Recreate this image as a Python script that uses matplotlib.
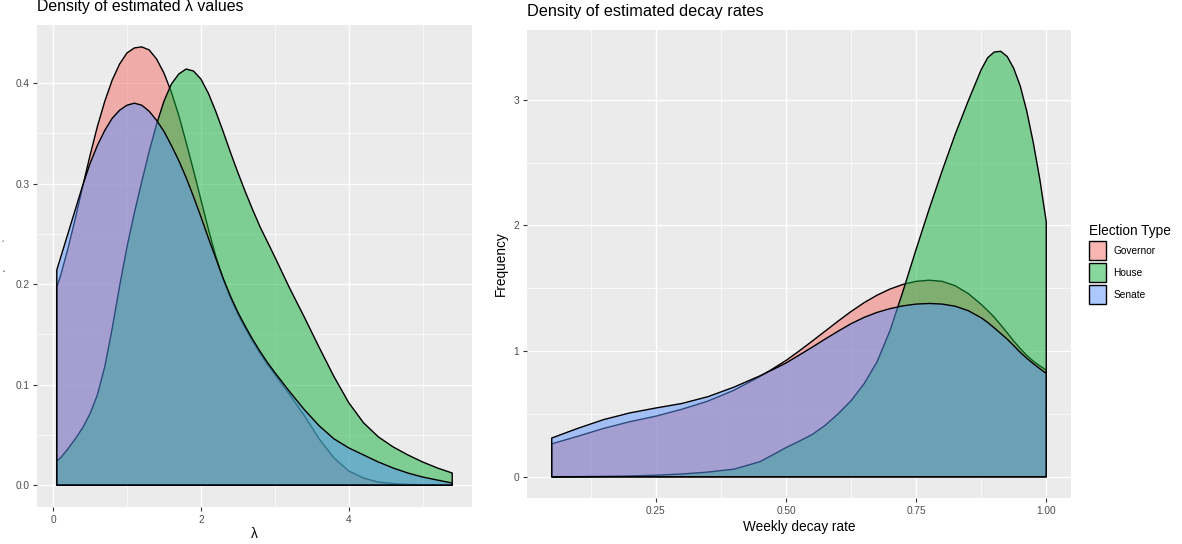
import matplotlib
matplotlib.use("Agg")
import matplotlib.pyplot as plt
from matplotlib.patches import Patch
import numpy as np

plt.rcParams['font.family'] = ['Liberation Sans', 'DejaVu Sans']

# ---- data -------------------------------------------------------------
election_types = ["Governor", "House", "Senate"]
fill_colors = ["#F36C67", "#12B13C", "#5A93FA"]

# density of estimated lambda values
lam = [0.05, 0.1, 0.2, 0.3, 0.4, 0.5, 0.6, 0.7, 0.8, 0.9, 1.0, 1.1, 1.2, 1.3,
       1.4, 1.5, 1.6, 1.7, 1.8, 1.9, 2.0, 2.1, 2.2, 2.3, 2.4, 2.5, 2.6, 2.7,
       2.8, 2.9, 3.0, 3.2, 3.4, 3.6, 3.8, 4.0, 4.2, 4.4, 4.6, 4.8, 5.0, 5.2,
       5.4]
lam_governor = [0.197, 0.208, 0.235, 0.265, 0.297, 0.328, 0.357, 0.382, 0.403,
                0.419, 0.430, 0.435, 0.436, 0.433, 0.424, 0.410, 0.391, 0.368,
                0.341, 0.313, 0.284, 0.255, 0.228, 0.205, 0.186, 0.170, 0.156,
                0.143, 0.131, 0.120, 0.110, 0.090, 0.069, 0.046, 0.027, 0.014,
                0.007, 0.003, 0.0015, 0.0007, 0.0003, 0.0001, 0.0]
lam_house = [0.024, 0.027, 0.036, 0.046, 0.057, 0.071, 0.090, 0.118, 0.156,
             0.198, 0.237, 0.271, 0.302, 0.332, 0.359, 0.382, 0.399, 0.409,
             0.414, 0.412, 0.404, 0.390, 0.372, 0.352, 0.331, 0.311, 0.292,
             0.274, 0.257, 0.242, 0.227, 0.196, 0.167, 0.137, 0.108, 0.082,
             0.062, 0.048, 0.038, 0.030, 0.023, 0.017, 0.012]
lam_senate = [0.214, 0.226, 0.250, 0.274, 0.298, 0.320, 0.338, 0.353, 0.365,
              0.373, 0.378, 0.380, 0.378, 0.372, 0.363, 0.352, 0.338, 0.323,
              0.306, 0.287, 0.267, 0.246, 0.226, 0.206, 0.188, 0.172, 0.158,
              0.145, 0.133, 0.122, 0.112, 0.093, 0.075, 0.059, 0.046, 0.037,
              0.030, 0.023, 0.017, 0.012, 0.008, 0.005, 0.002]

# density of estimated weekly decay rates
decay = [0.05, 0.10, 0.15, 0.20, 0.25, 0.30, 0.35, 0.40, 0.45, 0.475, 0.50,
         0.525, 0.55, 0.575, 0.60, 0.625, 0.65, 0.675, 0.70, 0.725, 0.75,
         0.775, 0.80, 0.825, 0.85, 0.875, 0.8875, 0.90, 0.9125, 0.925,
         0.9375, 0.95, 0.9625, 0.975, 0.9875, 1.00]
decay_governor = [0.262, 0.322, 0.385, 0.438, 0.482, 0.537, 0.602, 0.688,
                  0.798, 0.860, 0.925, 1.000, 1.078, 1.158, 1.238, 1.315,
                  1.385, 1.445, 1.494, 1.531, 1.555, 1.564, 1.555, 1.520,
                  1.458, 1.372, 1.322, 1.270, 1.208, 1.145, 1.080, 1.020,
                  0.966, 0.920, 0.882, 0.849]
decay_house = [0.000, 0.001, 0.003, 0.006, 0.012, 0.022, 0.037, 0.060, 0.120,
               0.175, 0.232, 0.282, 0.335, 0.408, 0.500, 0.605, 0.740, 0.915,
               1.165, 1.480, 1.810, 2.130, 2.435, 2.725, 2.990, 3.240, 3.335,
               3.380, 3.386, 3.344, 3.250, 3.110, 2.910, 2.660, 2.370, 2.029]
decay_senate = [0.308, 0.385, 0.455, 0.508, 0.547, 0.583, 0.637, 0.713, 0.803,
                0.853, 0.905, 0.967, 1.030, 1.095, 1.158, 1.218, 1.268, 1.308,
                1.338, 1.360, 1.374, 1.379, 1.374, 1.357, 1.322, 1.265, 1.228,
                1.185, 1.140, 1.095, 1.043, 0.990, 0.943, 0.900, 0.860, 0.822]

lam_x_ticks = [0, 2, 4]
lam_y_ticks = [0.0, 0.1, 0.2, 0.3, 0.4]
decay_x_ticks = [0.25, 0.50, 0.75, 1.00]
decay_y_ticks = [0, 1, 2, 3]

# ---- styling ------------------------------------------------------------
W, H = 1182, 544
PANEL_BG = "#EBEBEB"
TICK_COLOR = "#333333"
TICK_LABEL = "#4D4D4D"
TICK_SIZE = 7.3
AXIS_TITLE = 9.8
TITLE_SIZE = 11.7


def style_axes(ax, xticks, yticks, xfmt, yfmt, xminor, yminor):
    ax.set_facecolor(PANEL_BG)
    for s in ax.spines.values():
        s.set_visible(False)
    ax.set_xticks(xticks)
    ax.set_xticklabels([xfmt.format(v) for v in xticks])
    ax.set_yticks(yticks)
    ax.set_yticklabels([yfmt.format(v) for v in yticks])
    ax.set_xticks(xminor, minor=True)
    ax.set_yticks(yminor, minor=True)
    ax.grid(which="major", color="white", linewidth=1.0)
    ax.grid(which="minor", color="white", linewidth=0.5)
    ax.set_axisbelow(True)
    ax.tick_params(which="major", length=3, width=0.8, color=TICK_COLOR,
                   labelcolor=TICK_LABEL, labelsize=TICK_SIZE, pad=2.5)
    ax.tick_params(which="minor", length=0)


def draw_densities(ax, x, series):
    xs = np.asarray(x, dtype=float)
    for i, (vals, color) in enumerate(zip(series, fill_colors)):
        ys = np.asarray(vals, dtype=float)
        px = np.concatenate([[xs[0]], xs, [xs[-1]]])
        py = np.concatenate([[0.0], ys, [0.0]])
        ax.fill(px, py, facecolor=(matplotlib.colors.to_rgb(color) + (0.5,)),
                edgecolor="black", linewidth=1.0, joinstyle="round",
                zorder=2 + i)


def expanded(lo, hi, frac=0.05):
    pad = (hi - lo) * frac
    return lo - pad, hi + pad


fig = plt.figure(figsize=(W / 100, H / 100), dpi=100)
fig.patch.set_facecolor("white")

# ---- left panel: lambda ---------------------------------------------------
ax1 = fig.add_axes([37 / W, (H - 507) / H, 435 / W, 482 / H])
draw_densities(ax1, lam, [lam_governor, lam_house, lam_senate])
ax1.set_xlim(*expanded(min(lam), max(lam)))
ax1.set_ylim(*expanded(0.0, max(lam_governor + lam_house + lam_senate)))
style_axes(ax1, lam_x_ticks, lam_y_ticks, "{:g}", "{:.1f}",
           [1, 3, 5], [0.05, 0.15, 0.25, 0.35])
ax1.set_xlabel("λ", fontsize=AXIS_TITLE, labelpad=2)
# the left panel's y title is only two faint marks
fig.text(9 / W, 1 - 255 / H, "'          `", rotation=90, ha="center",
         va="center", fontsize=7, color="#333333")

# ---- right panel: weekly decay rate ---------------------------------------
ax2 = fig.add_axes([527 / W, (H - 498) / H, 544 / W, 468 / H])
draw_densities(ax2, decay, [decay_governor, decay_house, decay_senate])
ax2.set_xlim(*expanded(min(decay), max(decay)))
ax2.set_ylim(*expanded(0.0, max(decay_governor + decay_house + decay_senate)))
style_axes(ax2, decay_x_ticks, decay_y_ticks, "{:.2f}", "{:g}",
           [0.125, 0.375, 0.625, 0.875], [0.5, 1.5, 2.5])
ax2.set_xlabel("Weekly decay rate", fontsize=AXIS_TITLE, labelpad=3)
ax2.set_ylabel("Frequency", fontsize=AXIS_TITLE, labelpad=4)

# ---- titles ---------------------------------------------------------------
fig.text(37 / W, 1 - 11 / H, "Density of estimated λ values",
         fontsize=TITLE_SIZE - 0.3, ha="left", va="baseline")
fig.text(527 / W, 1 - 16 / H, "Density of estimated decay rates",
         fontsize=TITLE_SIZE, ha="left", va="baseline")

# ---- legend ---------------------------------------------------------------
handles = [Patch(facecolor=(matplotlib.colors.to_rgb(c) + (0.5,)),
                 edgecolor="black", linewidth=1.0)
           for c in fill_colors]
leg = ax2.legend(handles, election_types, title="Election Type",
                 loc="upper left", bbox_to_anchor=(1089 / W, 1 - 224 / H),
                 bbox_transform=fig.transFigure, frameon=False,
                 fontsize=TICK_SIZE, title_fontsize=AXIS_TITLE,
                 handlelength=1.7, handleheight=2.5, labelspacing=0.3,
                 handletextpad=0.7, borderpad=0, borderaxespad=0,
                 alignment="left")

fig.savefig("out.png", dpi=100)
